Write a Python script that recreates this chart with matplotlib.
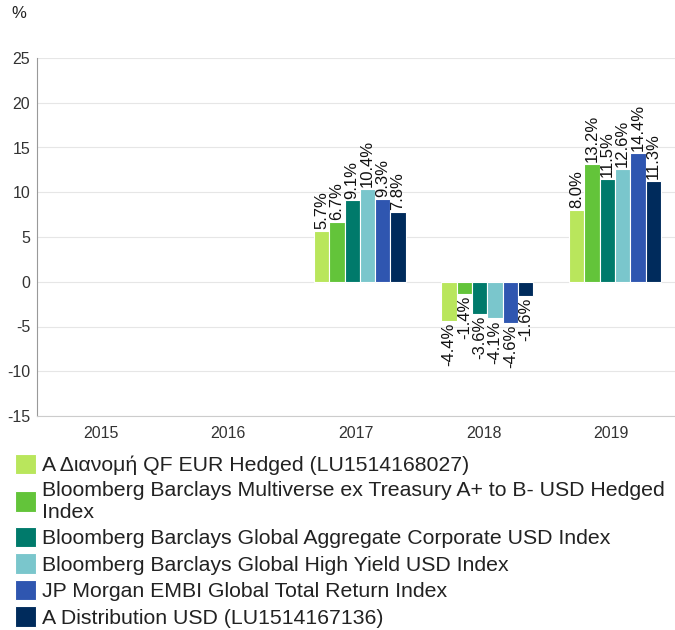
import numpy as np
import matplotlib.pyplot as plt

plt.rcParams['font.family'] = ['Liberation Sans', 'DejaVu Sans']
plt.rcParams['axes.unicode_minus'] = False

years = ["2015", "2016", "2017", "2018", "2019"]
series_names = [
    "A Διανομή QF EUR Hedged (LU1514168027)",
    "Bloomberg Barclays Multiverse ex Treasury A+ to B- USD Hedged\nIndex",
    "Bloomberg Barclays Global Aggregate Corporate USD Index",
    "Bloomberg Barclays Global High Yield USD Index",
    "JP Morgan EMBI Global Total Return Index",
    "A Distribution USD (LU1514167136)",
]
# values per series for 2015..2019 (None = no data)
fund_eur = [None, None, 5.7, -4.4, 8.0]
multiverse = [None, None, 6.7, -1.4, 13.2]
global_corp = [None, None, 9.1, -3.6, 11.5]
global_hy = [None, None, 10.4, -4.1, 12.6]
embi = [None, None, 9.3, -4.6, 14.4]
fund_usd = [None, None, 7.8, -1.6, 11.3]
all_series = [fund_eur, multiverse, global_corp, global_hy, embi, fund_usd]
colors = ["#b9e65c", "#63c43a", "#007a6b", "#7ac6cc", "#2f56b0", "#002b5c"]

fig = plt.figure(figsize=(6.75, 6.3), dpi=100)
ax = fig.add_axes([37 / 675, 1 - 416 / 630, (675 - 37) / 675, (416 - 58) / 630])

n = len(all_series)
group_w = 0.72
bw = group_w / n
shift = 0.03  # groups sit slightly right of the category centre
x = np.arange(len(years))

handles = []
for i, (vals, col) in enumerate(zip(all_series, colors)):
    offs = -group_w / 2 + bw * (i + 0.5) + shift
    xs = [x[j] + offs for j, v in enumerate(vals) if v is not None]
    vs = [v for v in vals if v is not None]
    h = ax.bar(xs, vs, width=bw, color=col, edgecolor="white", linewidth=0.8, zorder=3)
    handles.append(h)
    for xx, v in zip(xs, vs):
        if v >= 0:
            ax.text(xx, v + 0.2, "%.1f%%" % v, rotation=90, ha="center", va="bottom",
                    fontsize=12, color="#111111")
        else:
            ax.text(xx, v - 0.2, "%.1f%%" % v, rotation=90, ha="center", va="top",
                    fontsize=12, color="#111111")

ax.set_xlim(-0.5, 4.5)
ax.set_ylim(-15, 25)
ax.set_yticks(np.arange(-15, 26, 5))
ax.set_xticks(x)
ax.set_xticklabels(years)
ax.tick_params(axis="both", length=0, labelsize=11.5, colors="#333333")
ax.tick_params(axis="x", pad=7)
ax.tick_params(axis="y", pad=5)
ax.grid(axis="y", color="#e6e6e6", linewidth=0.8, zorder=0)
for s in ["top", "right"]:
    ax.spines[s].set_visible(False)
ax.spines["left"].set_color("#999999")
ax.spines["bottom"].set_color("#cccccc")

fig.text(11 / 675, 1 - 14 / 630, "%", fontsize=12, color="#222222", va="center")

fig.legend(handles, series_names, loc="upper left", bbox_to_anchor=(15 / 675, 1 - 454 / 630),
           frameon=False, fontsize=15.3, handlelength=1.0, handleheight=1.1,
           handletextpad=0.28, labelspacing=0.24, borderaxespad=0, borderpad=0,
           labelcolor="#222222")

fig.savefig("out.png", dpi=100)
